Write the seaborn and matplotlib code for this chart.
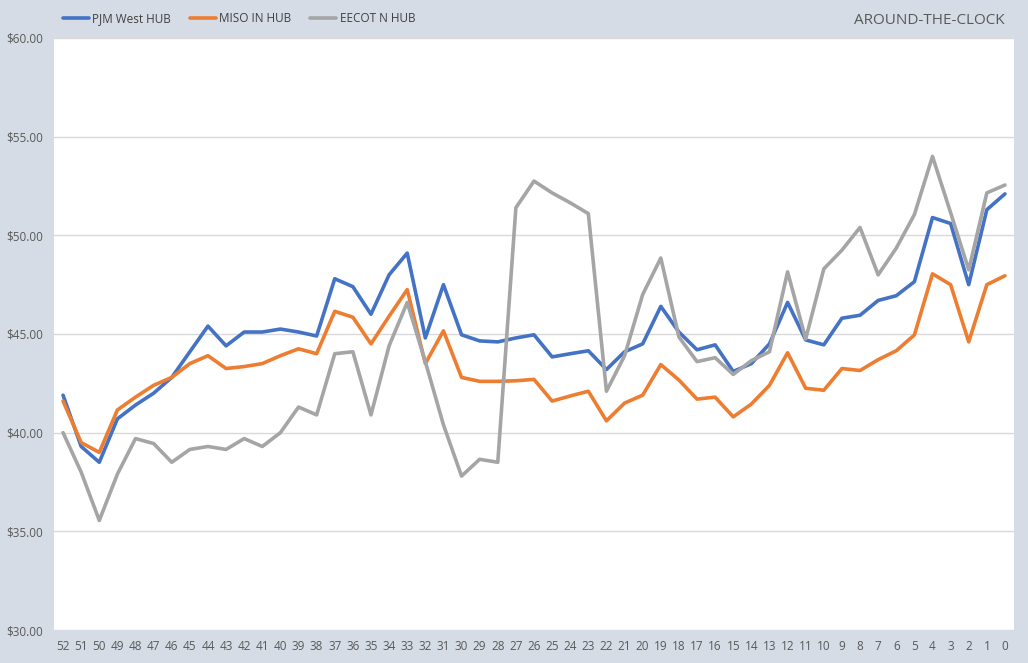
import numpy as np
import pandas as pd
import matplotlib
matplotlib.use("Agg")
import matplotlib.pyplot as plt
import seaborn as sns

weeks = [str(w) for w in range(52, -1, -1)]
pjm = [41.9, 39.3, 38.5, 40.7, 41.4, 42.0, 42.8, 44.1, 45.4, 44.4, 45.1, 45.1, 45.25, 45.1, 44.9,
       47.8, 47.4, 46.0, 48.0, 49.1, 44.8, 47.5, 44.96, 44.65, 44.6, 44.8, 44.96, 43.84, 44.0, 44.15,
       43.2, 44.1, 44.5, 46.4, 45.1, 44.2, 44.45, 43.1, 43.5, 44.5, 46.6, 44.7, 44.45, 45.8, 45.95,
       46.7, 46.94, 47.65, 50.9, 50.6, 47.5, 51.3, 52.1]
miso = [41.6, 39.5, 39.0, 41.15, 41.8, 42.4, 42.8, 43.5, 43.9, 43.25, 43.35, 43.5, 43.9, 44.25, 44.0,
        46.15, 45.85, 44.5, 45.9, 47.25, 43.5, 45.16, 42.8, 42.6, 42.6, 42.63, 42.7, 41.6, 41.86, 42.1,
        40.6, 41.5, 41.9, 43.45, 42.67, 41.7, 41.8, 40.8, 41.45, 42.4, 44.05, 42.25, 42.15, 43.25, 43.15,
        43.7, 44.15, 44.95, 48.05, 47.5, 44.6, 47.5, 47.95]
ercot = [40.0, 38.0, 35.55, 37.9, 39.7, 39.45, 38.5, 39.15, 39.3, 39.15, 39.7, 39.3, 40.0, 41.3, 40.9,
         44.0, 44.1, 40.9, 44.4, 46.6, 43.6, 40.4, 37.8, 38.65, 38.5, 51.4, 52.75, 52.15, 51.65, 51.1,
         42.1, 43.9, 47.0, 48.85, 44.85, 43.6, 43.8, 42.95, 43.65, 44.1, 48.15, 44.75, 48.3, 49.25, 50.4,
         48.0, 49.35, 51.05, 54.0, 51.15, 48.25, 52.15, 52.55]
series_names = ["PJM West HUB", "MISO IN HUB", "EECOT N HUB"]
title_text = "AROUND-THE-CLOCK"
y_ticks = [30, 35, 40, 45, 50, 55, 60]

colors = ["#4472C4", "#ED7D31", "#A5A5A5"]
bg = "#D6DCE5"

df = pd.DataFrame({
    "pos": list(range(len(weeks))) * 3,
    "value": pjm + miso + ercot,
    "series": sum([[n] * len(weeks) for n in series_names], []),
})

sns.set_style("white")
plt.rcParams["font.family"] = ["Open Sans", "DejaVu Sans"]

fig = plt.figure(figsize=(10.28, 6.63), dpi=100, facecolor=bg)
ax = fig.add_axes([54 / 1028, 1 - 630 / 663, 960 / 1028, 592 / 663])
ax.set_facecolor("white")

sns.lineplot(data=df, x="pos", y="value", hue="series", hue_order=series_names,
             palette=colors, linewidth=2.6, ax=ax, legend=False, sort=False)

ax.set_xlim(-0.5, len(weeks) - 0.5)
ax.set_ylim(30, 60)
ax.set_yticks(y_ticks)
ax.set_yticklabels([f"${v:.2f}" for v in y_ticks], color="#595959", fontsize=8.5)
ax.set_xticks(range(len(weeks)))
ax.set_xticklabels(weeks, color="#595959", fontsize=8.5)
ax.tick_params(axis="both", length=0, pad=7)
ax.tick_params(axis="y", pad=8)
ax.grid(axis="y", color="#D9D9D9", linewidth=1)
ax.set_axisbelow(True)
for s in ax.spines.values():
    s.set_visible(False)
ax.set_xlabel("")
ax.set_ylabel("")

from matplotlib.lines import Line2D
handles = [Line2D([0], [0], color=c, linewidth=2.6) for c in colors]
fig.legend(handles, series_names, loc="center left", bbox_to_anchor=(52 / 1028, 1 - 19 / 663),
           ncol=3, frameon=False, fontsize=8.5, handlelength=2.2, handletextpad=0.3,
           columnspacing=1.6, labelcolor="#404040")

fig.text(1005 / 1028, 1 - 21 / 663, title_text, ha="right", va="center",
         fontsize=11, color="#595959")

fig.savefig("out.png", dpi=100, facecolor=bg)
